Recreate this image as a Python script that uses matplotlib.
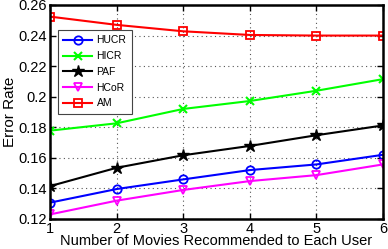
import matplotlib.pyplot as plt

plt.rcParams['font.family'] = ['Liberation Sans', 'DejaVu Sans']

movies = [1, 2, 3, 4, 5, 6]
hucr = [0.1307, 0.1396, 0.1459, 0.1520, 0.1557, 0.1620]
hicr = [0.1778, 0.1826, 0.1920, 0.1972, 0.2039, 0.2115]
paf = [0.1415, 0.1535, 0.1617, 0.1678, 0.1748, 0.1812]
hcor = [0.1230, 0.1320, 0.1390, 0.1448, 0.1487, 0.1557]
am = [0.2524, 0.2470, 0.2428, 0.2404, 0.2400, 0.2400]

y_ticks = [0.12, 0.14, 0.16, 0.18, 0.2, 0.22, 0.24, 0.26]
y_labels = ['0.12', '0.14', '0.16', '0.18', '0.2', '0.22', '0.24', '0.26']

fig = plt.figure(figsize=(3.88, 2.49), dpi=100)
ax = fig.add_axes([50 / 388, 1 - 219 / 249, 333 / 388, 214 / 249])

ax.plot(movies, hucr, color='#0000ff', marker='o', ms=6, mfc='none', mew=1.3, lw=1.5, label='HUCR')
ax.plot(movies, hicr, color='#00ff00', marker='x', ms=6, mew=1.5, lw=1.5, label='HICR')
ax.plot(movies, paf, color='black', marker='*', ms=9, lw=1.5, label='PAF')
ax.plot(movies, hcor, color='#ff00ff', marker='v', ms=6, mfc='none', mew=1.3, lw=1.5, label='HCoR')
ax.plot(movies, am, color='#ff0000', marker='s', ms=5.5, mfc='none', mew=1.3, lw=1.5, label='AM')

ax.set_xlim(1, 6)
ax.set_ylim(0.12, 0.26)
ax.set_xticks(movies)
ax.set_yticks(y_ticks)
ax.set_yticklabels(y_labels)
ax.tick_params(direction='in', labelsize=10.5, length=4, width=1, top=True, right=True)
ax.tick_params(axis='x', pad=2)
ax.tick_params(axis='y', pad=2)
ax.grid(True, ls=(0, (1, 3)), color='#555555', lw=0.8)
for s in ax.spines.values():
    s.set_linewidth(1.8)

ax.set_xlabel('Number of Movies Recommended to Each User', fontsize=10.5, labelpad=-1)
ax.set_ylabel('Error Rate', fontsize=11, labelpad=1)

leg = ax.legend(loc='upper left', bbox_to_anchor=(0.024, 0.882), fontsize=7.5, fancybox=False,
                framealpha=1, edgecolor='#444444', borderpad=0.5, labelspacing=0.55,
                handlelength=2.8, handletextpad=0.4, borderaxespad=0)
leg.get_frame().set_linewidth(0.8)

plt.savefig('out.png', dpi=100)
